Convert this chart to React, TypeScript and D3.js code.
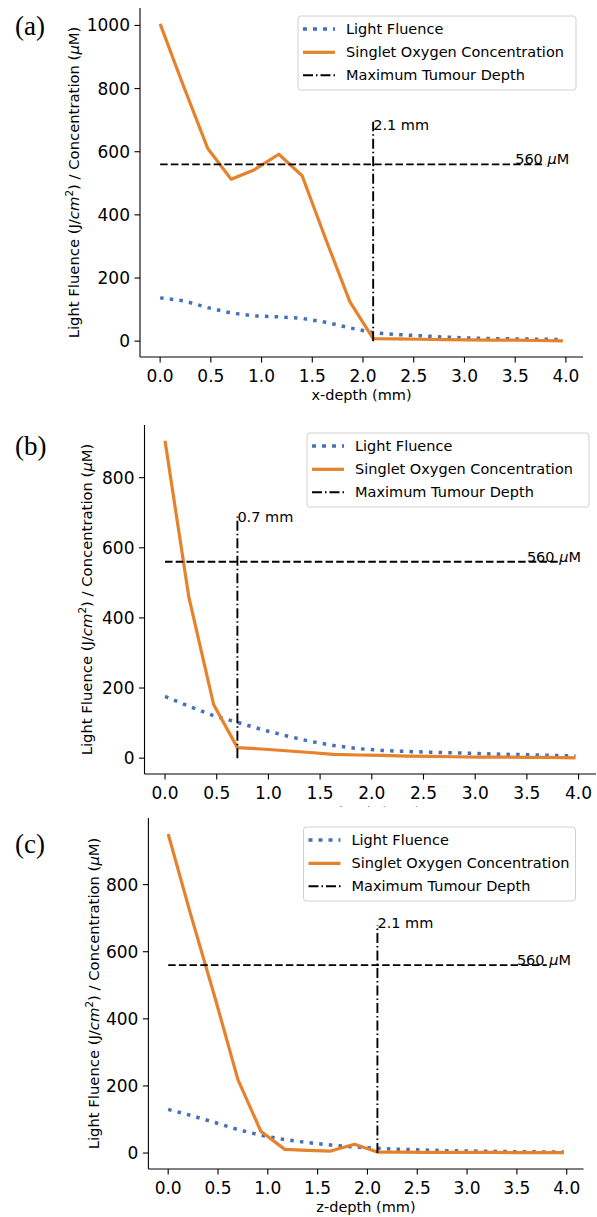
import React from 'react';
import * as d3 from 'd3';

// ---------- data ----------
const depth = [0, 0.23, 0.47, 0.7, 0.93, 1.17, 1.4, 1.63, 1.87, 2.1, 2.33, 2.57, 2.8, 3.03, 3.27, 3.5, 3.73, 3.97];

const fluenceX = [137, 128, 106, 89, 80, 77, 72, 60, 42, 27, 21, 17, 13, 10, 8, 7, 6, 5];
const oxygenX = [1005, 808, 610, 513, 543, 592, 524, 325, 125, 8, 7, 6, 5, 4, 3, 3, 2, 1];
const fluenceY = [176, 148, 121, 102, 82, 64, 48, 36, 27, 22, 19, 17, 15, 13, 11, 10, 8, 6];
const oxygenY = [905, 460, 153, 30, 26, 21, 16, 11, 9, 8, 6, 5, 4, 3, 3, 2, 2, 1];
const fluenceZ = [130, 112, 91, 70, 53, 40, 31, 24, 18, 14, 11, 9, 7, 6, 5, 4, 3.5, 3];
const oxygenZ = [951, 707, 463, 219, 65, 11, 8, 6, 26, 3, 3, 2, 2, 2, 2, 1, 1, 1];

const maxTumourDepth = [2.1, 0.7, 2.1];
const depthLineTop = [695, 689, 680];
const depthTextY = [670, 674, 670];
const depthTexts = ['2.1 mm', '0.7 mm', '2.1 mm'];
const threshold = 560;
const thresholdEnd = 3.8;
const thresholdTextX = 3.5;
const xTicks = [0, 0.5, 1, 1.5, 2, 2.5, 3, 3.5, 4];
const yTicksX = [0, 200, 400, 600, 800, 1000];
const yTicksYZ = [0, 200, 400, 600, 800];
const axisLabels = ['x-depth (mm)', 'y-depth (mm)', 'z-depth (mm)'];
const panelLetters = ['(a)', '(b)', '(c)'];
const legendLabels = ['Light Fluence', 'Singlet Oxygen Concentration', 'Maximum Tumour Depth'];

// ---------- style ----------
const BLUE = '#4472b4';
const ORANGE = '#e6822c';
const FONT = '"DejaVu Sans", sans-serif';

const boxes = [
  { left: 140, right: 583, top: 8, bottom: 357, ylabX: 79, letterY: 35, legX: 298, legY: 16, legW: 278 },
  { left: 144.5, right: 596, top: 425, bottom: 774, ylabX: 92, letterY: 455, legX: 307, legY: 433, legW: 282 },
  { left: 148.4, right: 583.5, top: 818, bottom: 1169, ylabX: 98.5, letterY: 853, legX: 303.5, legY: 827, legW: 272 },
];

function Panel({ idx, fluence, oxygen, yTicks }: { idx: number; fluence: number[]; oxygen: number[]; yTicks: number[] }) {
  const b = boxes[idx];
  const xmin = d3.min(depth) as number;
  const xmax = d3.max(depth) as number;
  const xpad = (xmax - xmin) * 0.05;
  const x = d3.scaleLinear().domain([xmin - xpad, xmax + xpad]).range([b.left, b.right]);
  const ymax = d3.max([...fluence, ...oxygen]) as number;
  const y = d3.scaleLinear().domain([-0.05 * ymax, 1.05 * ymax]).range([b.bottom, b.top]);
  const line = d3.line<number>().x((_, i) => x(depth[i])).y((d) => y(d));
  const md = maxTumourDepth[idx];
  const cy = (b.top + b.bottom) / 2;
  const legRows = [b.legY + 13, b.legY + 36.3, b.legY + 59.3];
  const sx0 = b.legX + 5;
  const sx1 = b.legX + 37;
  return (
    <g>
      <text x={15} y={b.letterY} fontFamily='"Liberation Serif", "Times New Roman", serif' fontSize={27} fill="#000">
        {panelLetters[idx]}
      </text>
      {/* data */}
      <path d={line(fluence) || ''} fill="none" stroke={BLUE} strokeWidth={3.5} strokeDasharray="3.5,6.2" />
      <path d={line(oxygen) || ''} fill="none" stroke={ORANGE} strokeWidth={3.2} strokeLinejoin="round" />
      <line x1={x(md)} x2={x(md)} y1={y(0)} y2={y(depthLineTop[idx])} stroke="#000" strokeWidth={1.9} strokeDasharray="10,3,1.5,3" />
      <line x1={x(0)} x2={x(thresholdEnd)} y1={y(threshold)} y2={y(threshold)} stroke="#000" strokeWidth={1.9} strokeDasharray="7.5,3.2" />
      <text x={x(md)} y={y(depthTextY[idx])} fontFamily={FONT} fontSize={14.5} fill="#000">{depthTexts[idx]}</text>
      <text x={x(thresholdTextX)} y={y(threshold)} fontFamily={FONT} fontSize={14.5} fill="#000">
        {threshold} <tspan fontStyle="italic">μ</tspan>M
      </text>
      {/* spines */}
      <line x1={b.left} x2={b.left} y1={b.top} y2={b.bottom} stroke="#000" strokeWidth={1.1} />
      <line x1={b.left} x2={b.right} y1={b.bottom} y2={b.bottom} stroke="#000" strokeWidth={1.1} />
      {/* x ticks */}
      {xTicks.map((t) => (
        <g key={'x' + t}>
          <line x1={x(t)} x2={x(t)} y1={b.bottom} y2={b.bottom + 5.5} stroke="#000" strokeWidth={1.1} />
          <text x={x(t)} y={b.bottom + 25} textAnchor="middle" fontFamily={FONT} fontSize={17} fill="#000">
            {t.toFixed(1)}
          </text>
        </g>
      ))}
      {/* y ticks */}
      {yTicks.map((t) => (
        <g key={'y' + t}>
          <line x1={b.left - 5.5} x2={b.left} y1={y(t)} y2={y(t)} stroke="#000" strokeWidth={1.1} />
          <text x={b.left - 10} y={y(t) + 6} textAnchor="end" fontFamily={FONT} fontSize={17} fill="#000">
            {t}
          </text>
        </g>
      ))}
      <text x={(b.left + b.right) / 2} y={b.bottom + 42.5} textAnchor="middle" fontFamily={FONT} fontSize={14.5} fill="#000">
        {axisLabels[idx]}
      </text>
      <text transform={`translate(${b.ylabX},${cy}) rotate(-90)`} textAnchor="middle" fontFamily={FONT} fontSize={14.8} fill="#000">
        Light Fluence (J/<tspan fontStyle="italic">cm</tspan>
        <tspan dy={-6} fontSize={10.5}>2</tspan>
        <tspan dy={6}>) / Concentration (</tspan>
        <tspan fontStyle="italic">μ</tspan>M)
      </text>
      {/* legend */}
      <rect x={b.legX} y={b.legY} width={b.legW} height={74} rx={3} fill="#fff" fillOpacity={0.85} stroke="#d0d0d0" strokeWidth={1} />
      <line x1={sx0} x2={sx1} y1={legRows[0]} y2={legRows[0]} stroke={BLUE} strokeWidth={3.5} strokeDasharray="4,6" />
      <line x1={sx0} x2={sx1} y1={legRows[1]} y2={legRows[1]} stroke={ORANGE} strokeWidth={3.2} />
      <line x1={sx0} x2={sx1} y1={legRows[2]} y2={legRows[2]} stroke="#000" strokeWidth={1.9} strokeDasharray="10,3,1.5,3" />
      {legendLabels.map((l, i) => (
        <text key={l} x={b.legX + 48} y={legRows[i] + 5} fontFamily={FONT} fontSize={14.5} fill="#000">
          {l}
        </text>
      ))}
    </g>
  );
}

export default function App() {
  return (
    <svg width={597} height={1217} style={{ position: 'absolute', left: 0, top: 0, background: '#fff' }}>
      <rect x={0} y={0} width={597} height={1217} fill="#fff" />
      <Panel idx={0} fluence={fluenceX} oxygen={oxygenX} yTicks={yTicksX} />
      <Panel idx={1} fluence={fluenceY} oxygen={oxygenY} yTicks={yTicksYZ} />
      <rect x={0} y={806.5} width={597} height={411} fill="#fff" />
      <Panel idx={2} fluence={fluenceZ} oxygen={oxygenZ} yTicks={yTicksYZ} />
    </svg>
  );
}
